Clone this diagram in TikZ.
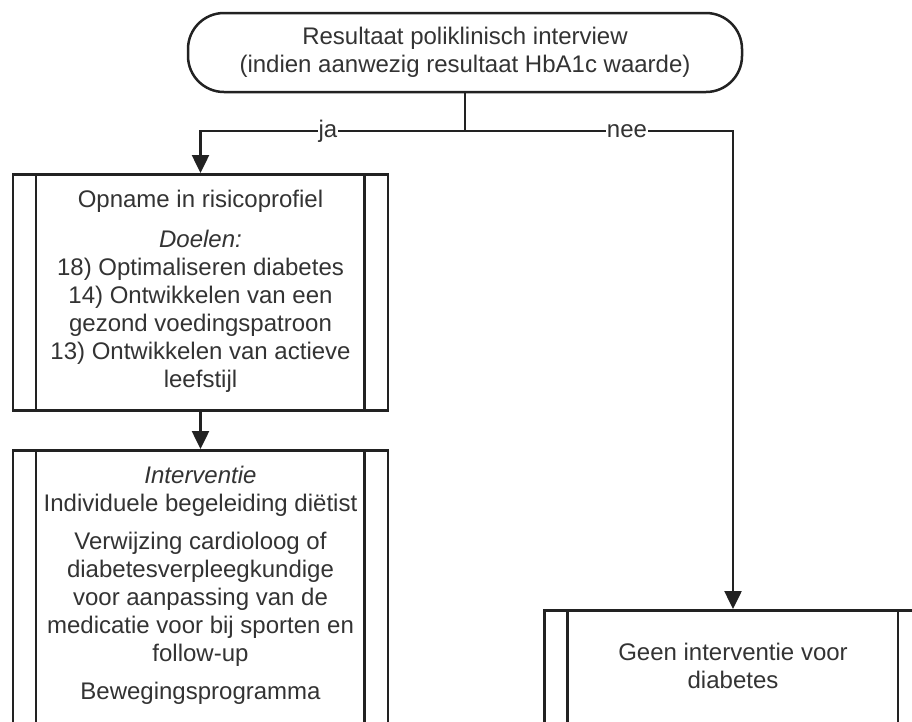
\documentclass[tikz,border=0pt]{standalone}
\usepackage{fontspec}
\setmainfont{Liberation Sans}
\usetikzlibrary{arrows.meta}
\definecolor{ink}{HTML}{222222}
\definecolor{txt}{HTML}{333333}
\tikzset{
  term/.style={draw=ink, line width=2.5pt, rounded corners=36pt, minimum width=554pt, minimum height=79pt, inner sep=0pt, align=center, text=txt, font=\fontsize{24}{28}\selectfont},
  procbox/.style={draw=ink, line width=2.5pt, inner sep=0pt, anchor=north},
  boxtext/.style={anchor=north, align=center, text=txt, font=\fontsize{24}{28}\selectfont, inner sep=0pt},
  conn/.style={draw=ink, line width=2.5pt},
  arr/.style={conn, -{Triangle[width=17pt,length=18pt]}},
  lbl/.style={fill=white, inner sep=1pt, text=txt, font=\fontsize{24}{28}\selectfont}
}
\begin{document}
\begin{tikzpicture}[x=1pt,y=-1pt]
\useasboundingbox (0,0) rectangle (912,721);
\clip (0,0) rectangle (912,721);
\fill[white] (0,0) rectangle (912,721);

\node[term] (t) at (465,52.5) {Resultaat poliklinisch interview\\(indien aanwezig resultaat HbA1c waarde)};

\coordinate (j) at (465,131);
\coordinate (jl) at (200.5,131);
\coordinate (jr) at (733,131);

\node[procbox, minimum width=375pt, minimum height=236pt] (b1) at (200.5,173) {};
\node[procbox, minimum width=375pt, minimum height=320pt] (b2) at (200.5,449) {};
\node[procbox, minimum width=377pt, minimum height=200pt] (b3) at (733,609) {};

\foreach \b in {b1,b2,b3}{
  \draw[conn] ([xshift=24pt]\b.north west) -- ([xshift=24pt]\b.south west);
  \draw[conn] ([xshift=-25pt]\b.north east) -- ([xshift=-25pt]\b.south east);
}

\node[boxtext] (b1t) at ([yshift=-17pt]b1.north) {Opname in risicoprofiel\\[12pt]
\textit{Doelen:}\\
18) Optimaliseren diabetes\\
14) Ontwikkelen van een\\
gezond voedingspatroon\\
13) Ontwikkelen van actieve\\
leefstijl};

\node[boxtext] (b2t) at ([yshift=-17pt]b2.north) {\textit{Interventie}\\
Individuele begeleiding diëtist\\[10pt]
Verwijzing cardioloog of\\
diabetesverpleegkundige\\
voor aanpassing van de\\
medicatie voor bij sporten en\\
follow-up\\[10pt]
Bewegingsprogramma};

\node[boxtext] (b3t) at ([yshift=-34pt]b3.north) {Geen interventie voor\\diabetes};

\draw[conn] (t.south) -- (j);
\draw[arr] (j) -- (jl) -- (b1.north);
\draw[arr] (j) -- (jr) -- (b3.north);
\draw[arr] (b1.south) -- (b2.north);

\node[lbl] (ja) at (328,131) {ja};
\node[lbl] (nee) at (627,131) {nee};
\end{tikzpicture}
\end{document}
